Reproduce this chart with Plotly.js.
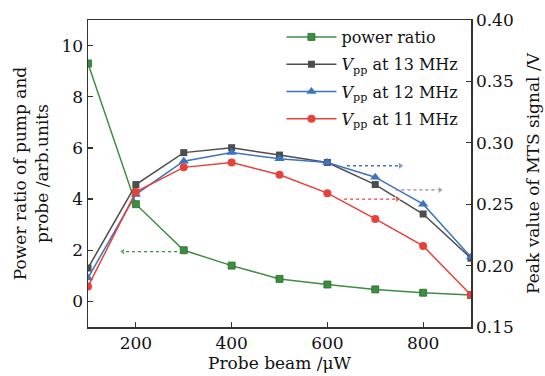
<!DOCTYPE html>
<html>
<head>
<meta charset="utf-8">
<script src="https://cdn.plot.ly/plotly-3.0.1.min.js"></script>
<style>html,body{margin:0;padding:0;background:#fff}#chart{width:545px;height:376px}</style>
</head>
<body>
<div id="chart"></div>
<script>
// ---- data ----
const probeBeam = [100, 200, 300, 400, 500, 600, 700, 800, 900];
const powerRatio = [9.3, 3.8, 2.0, 1.4, 0.88, 0.66, 0.47, 0.34, 0.25];
const vpp13 = [0.198, 0.266, 0.292, 0.296, 0.290, 0.284, 0.266, 0.242, 0.206];
const vpp12 = [0.190, 0.258, 0.285, 0.292, 0.287, 0.284, 0.272, 0.250, 0.207];
const vpp11 = [0.183, 0.260, 0.280, 0.284, 0.274, 0.259, 0.238, 0.216, 0.176];
const seriesNames = ['power ratio', '<i>V</i><sub>pp</sub> at 13 MHz', '<i>V</i><sub>pp</sub> at 12 MHz', '<i>V</i><sub>pp</sub> at 11 MHz'];
// axis-indicator arrows: [x start, x end], [y, y]
const arrowGreen = [[286, 173], [1.95, 1.95]];
const arrowBlue = [[641, 752], [0.2813, 0.2813]];
const arrowGray = [[742, 835], [0.2616, 0.2616]];
const arrowRed = [[635, 746], [0.2542, 0.2542]];

const cGreen = '#3b8e3f', cGray = '#4d4d4d', cBlue = '#3a74c2', cRed = '#e8403a';
const font = 'DejaVu Serif, Liberation Serif, serif';

function arrow(a, color, yaxis, dir) {
  return {x: a[0], y: a[1], yaxis: yaxis, mode: 'lines+markers', showlegend: false, hoverinfo: 'skip',
    line: {color: color, width: 1.3, dash: 'dot'},
    marker: {size: [0, 7], color: color, symbol: dir}};
}

const traces = [
  {x: probeBeam, y: powerRatio, name: seriesNames[0], legendgroup: 'g1', mode: 'lines+markers', yaxis: 'y',
   line: {color: cGreen, width: 1.5}, marker: {symbol: 'square', size: 7, color: cGreen, line: {color: '#2a6a2e', width: 0.8}}},
  {x: probeBeam, y: vpp13, name: seriesNames[1], legendgroup: 'g2', mode: 'lines+markers', yaxis: 'y2',
   line: {color: cGray, width: 1.5}, marker: {symbol: 'square', size: 7, color: cGray}},
  {x: probeBeam, y: vpp12, name: seriesNames[2], legendgroup: 'g3', mode: 'lines+markers', yaxis: 'y2',
   line: {color: cBlue, width: 1.5}, marker: {symbol: 'triangle-up', size: 9, color: cBlue}},
  {x: probeBeam, y: vpp11, name: seriesNames[3], legendgroup: 'g4', mode: 'lines+markers', yaxis: 'y2',
   line: {color: cRed, width: 1.5}, marker: {symbol: 'circle', size: 8, color: cRed}},
  arrow(arrowGreen, cGreen, 'y', 'triangle-left'),
  arrow(arrowBlue, cBlue, 'y2', 'triangle-right'),
  arrow(arrowGray, '#8a8a8a', 'y2', 'triangle-right'),
  arrow(arrowRed, cRed, 'y2', 'triangle-right')
];

const axisCommon = {showline: true, linecolor: '#333', linewidth: 1.5, ticks: 'inside', ticklen: 5,
  tickcolor: '#333', tickwidth: 1.2, showgrid: false, zeroline: false,
  tickfont: {family: font, size: 17, color: '#111'}};

const layout = {
  width: 545, height: 376,
  margin: {l: 88, r: 74, t: 20, b: 49},
  paper_bgcolor: '#fff', plot_bgcolor: '#fff',
  font: {family: font, color: '#111'},
  showlegend: true,
  legend: {x: 0.505, y: 1.0, xanchor: 'left', yanchor: 'top', bgcolor: 'rgba(0,0,0,0)',
    traceorder: 'grouped', tracegroupgap: 3.5, itemwidth: 50,
    font: {family: font, size: 16, color: '#111'}},
  xaxis: Object.assign({}, axisCommon, {range: [100, 900], tickvals: [200, 400, 600, 800], mirror: true,
    title: {text: 'Probe beam /μW', font: {family: font, size: 17, color: '#111'}, standoff: 2}}),
  yaxis: Object.assign({}, axisCommon, {range: [-1, 11], dtick: 2, tick0: 0,
    title: {text: 'Power ratio of pump and<br>probe /arb.units', font: {family: font, size: 17, color: '#111'}, standoff: 8}}),
  yaxis2: Object.assign({}, axisCommon, {range: [0.15, 0.40], dtick: 0.05, tick0: 0.15, tickformat: '.2f',
    overlaying: 'y', side: 'right',
    title: {text: 'Peak value of MTS signal /V', font: {family: font, size: 17, color: '#111'}, standoff: 14}})
};

Plotly.newPlot('chart', traces, layout, {staticPlot: true});
</script>
</body>
</html>
